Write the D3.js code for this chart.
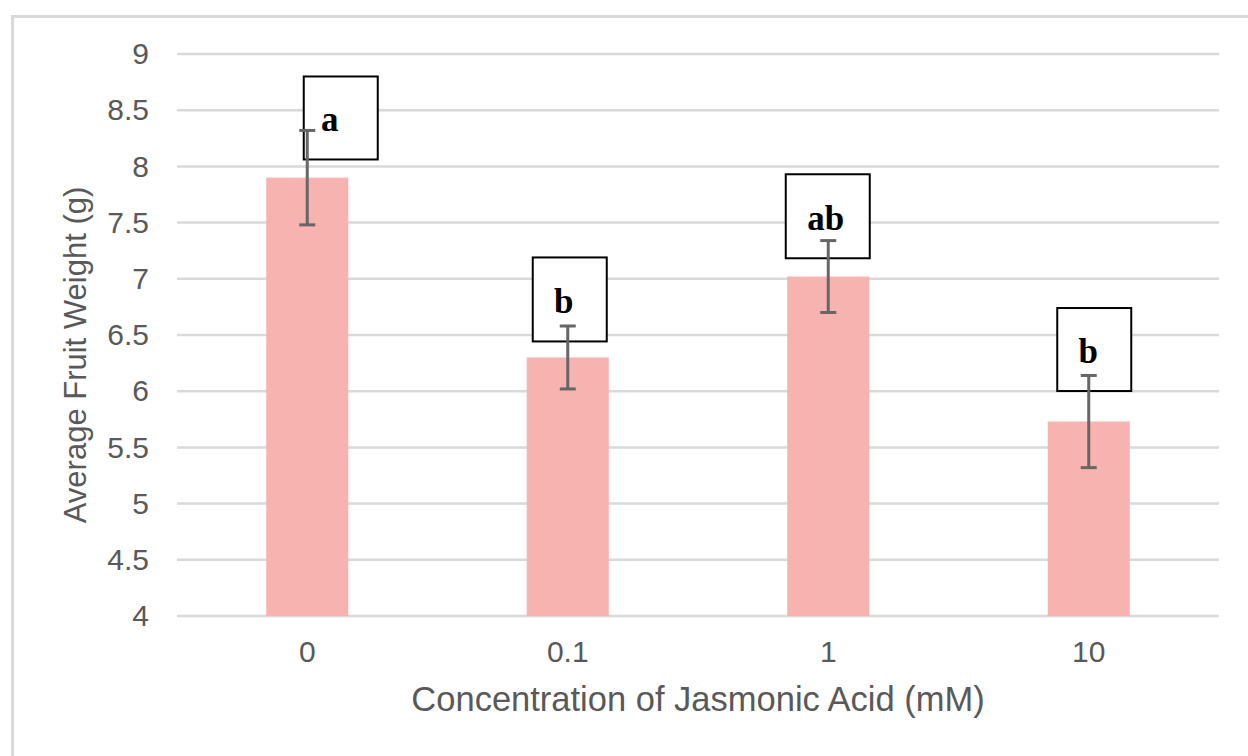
<!DOCTYPE html>
<html>
<head>
<meta charset="utf-8">
<script src="https://cdn.jsdelivr.net/npm/d3@7"></script>
<style>
  html, body { margin: 0; padding: 0; background: #fff; }
  svg { display: block; }
</style>
</head>
<body>
<svg id="chart" width="1248" height="756"></svg>
<script>
// ---- data ----
const categories = ["0", "0.1", "1", "10"];
const means = [7.90, 6.30, 7.02, 5.73];
const errors = [0.42, 0.28, 0.32, 0.41];
const letters = ["a", "b", "ab", "b"];
const yTicks = [4, 4.5, 5, 5.5, 6, 6.5, 7, 7.5, 8, 8.5, 9];
const yTickLabels = ["4", "4.5", "5", "5.5", "6", "6.5", "7", "7.5", "8", "8.5", "9"];

// ---- layout ----
const W = 1248, H = 756;
const plot = { left: 177, right: 1219, top: 54, bottom: 616 };
const textColor = "#595959";
const gridColor = "#d9d9d9";
const barColor = "#f7b3af";
const errColor = "#666666";
const tickFont = "'Liberation Sans', Arial, Helvetica, sans-serif";

// letter box placement (pixel offsets from the bar centre; box top given in data units)
const boxLayout = [
  { dx: -3.5, w: 74, top: 8.80, h: 83, tx: 26, ty: 55 },
  { dx: -35,  w: 74, top: 7.19, h: 84, tx: 31, ty: 56 },
  { dx: -42.5, w: 84, top: 7.93, h: 84, tx: 40, ty: 56 },
  { dx: -31.5, w: 74, top: 6.74, h: 83, tx: 31, ty: 55 }
];

const svg = d3.select("#chart");

const x = d3.scaleBand().domain(categories).range([plot.left, plot.right]).paddingInner(0.685).paddingOuter(0.3425);
const y = d3.scaleLinear().domain([4, 9]).range([plot.bottom, plot.top]);

// outer frame (top + left visible)
svg.append("line").attr("x1", 12).attr("x2", W).attr("y1", 16.5).attr("y2", 16.5)
  .attr("stroke", gridColor).attr("stroke-width", 3);
svg.append("line").attr("x1", 12.5).attr("x2", 12.5).attr("y1", 15).attr("y2", H)
  .attr("stroke", gridColor).attr("stroke-width", 3);

// gridlines
svg.append("g").selectAll("line").data(yTicks).join("line")
  .attr("x1", plot.left).attr("x2", plot.right)
  .attr("y1", d => y(d)).attr("y2", d => y(d))
  .attr("stroke", gridColor).attr("stroke-width", 2.5);

// y axis labels
const yAxis = d3.axisLeft(y).tickValues(yTicks).tickFormat((d, i) => yTickLabels[i]).tickSize(0).tickPadding(0);
const yg = svg.append("g").attr("transform", `translate(${plot.left - 28},0)`).call(yAxis);
yg.select(".domain").remove();
yg.selectAll("text").attr("fill", textColor).attr("font-family", tickFont).attr("font-size", 30);

// x axis labels
const xAxis = d3.axisBottom(x).tickSize(0).tickPadding(0);
const xg = svg.append("g").attr("transform", `translate(0,${plot.bottom + 25})`).call(xAxis);
xg.select(".domain").remove();
xg.selectAll("text").attr("fill", textColor).attr("font-family", tickFont).attr("font-size", 30);

// bars
svg.append("g").selectAll("rect").data(means).join("rect")
  .attr("x", (d, i) => x(categories[i]))
  .attr("width", x.bandwidth())
  .attr("y", d => y(d))
  .attr("height", d => y(4) - y(d))
  .attr("fill", barColor);

// letter boxes
const boxes = svg.append("g").selectAll("g").data(letters).join("g")
  .attr("transform", (d, i) => {
    const cx = x(categories[i]) + x.bandwidth() / 2;
    return `translate(${cx + boxLayout[i].dx},${y(boxLayout[i].top)})`;
  });
boxes.append("rect")
  .attr("width", (d, i) => boxLayout[i].w)
  .attr("height", (d, i) => boxLayout[i].h)
  .attr("fill", "#fff").attr("stroke", "#000").attr("stroke-width", 2);
boxes.append("text")
  .attr("x", (d, i) => boxLayout[i].tx)
  .attr("y", (d, i) => boxLayout[i].ty)
  .attr("text-anchor", "middle")
  .attr("font-family", "'Liberation Serif', 'Times New Roman', serif")
  .attr("font-weight", "bold")
  .attr("font-size", 35)
  .attr("fill", "#000")
  .text(d => d);

// error bars
const eg = svg.append("g").selectAll("g").data(means).join("g")
  .attr("stroke", errColor).attr("stroke-width", 3);
eg.append("line")
  .attr("x1", (d, i) => x(categories[i]) + x.bandwidth() / 2)
  .attr("x2", (d, i) => x(categories[i]) + x.bandwidth() / 2)
  .attr("y1", (d, i) => y(d + errors[i]))
  .attr("y2", (d, i) => y(d - errors[i]));
eg.append("line")
  .attr("x1", (d, i) => x(categories[i]) + x.bandwidth() / 2 - 8)
  .attr("x2", (d, i) => x(categories[i]) + x.bandwidth() / 2 + 8)
  .attr("y1", (d, i) => y(d + errors[i]))
  .attr("y2", (d, i) => y(d + errors[i]));
eg.append("line")
  .attr("x1", (d, i) => x(categories[i]) + x.bandwidth() / 2 - 8)
  .attr("x2", (d, i) => x(categories[i]) + x.bandwidth() / 2 + 8)
  .attr("y1", (d, i) => y(d - errors[i]))
  .attr("y2", (d, i) => y(d - errors[i]));

// axis titles
svg.append("text")
  .attr("x", (plot.left + plot.right) / 2).attr("y", 711)
  .attr("text-anchor", "middle")
  .attr("font-family", tickFont).attr("font-size", 34.5).attr("fill", textColor)
  .text("Concentration of Jasmonic Acid (mM)");
svg.append("text")
  .attr("transform", `translate(86,355) rotate(-90)`)
  .attr("text-anchor", "middle")
  .attr("font-family", tickFont).attr("font-size", 31).attr("fill", textColor)
  .text("Average Fruit Weight (g)");
</script>
</body>
</html>
